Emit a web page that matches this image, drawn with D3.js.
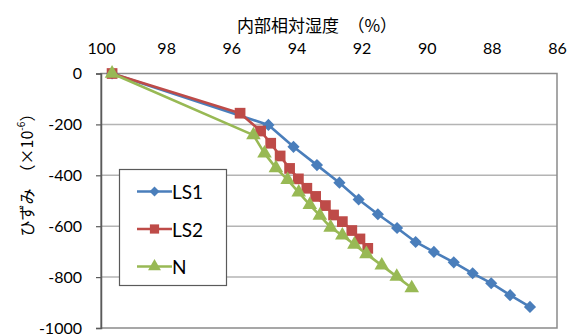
<!DOCTYPE html>
<html>
<head>
<meta charset="utf-8">
<script src="https://cdn.jsdelivr.net/npm/d3@7"></script>
<style>
  html, body { margin: 0; padding: 0; background: #fff; }
  svg text { font-family: Lato, "Noto Sans CJK JP", sans-serif; fill: #000; }
  .jp { font-family: "Noto Sans CJK JP", sans-serif; }
</style>
</head>
<body>
<svg id="chart" width="576" height="336"></svg>
<script>
// Internal relative humidity (%) and strain (×10^-6) for each specimen
const ls1RH = [99.66, 94.86, 94.09, 93.37, 92.68, 92.09, 91.50, 90.91, 90.34, 89.78, 89.17, 88.59, 88.02, 87.44, 86.83];
const ls1Strain = [0, -202, -288, -360, -429, -495, -553, -607, -662, -701, -742, -785, -824, -871, -917];

const ls2RH = [99.66, 95.73, 95.10, 94.79, 94.50, 94.21, 93.94, 93.68, 93.41, 93.11, 92.86, 92.59, 92.30, 92.05, 91.81];
const ls2Strain = [0, -156, -226, -274, -324, -373, -414, -451, -483, -519, -556, -582, -617, -650, -687];

const nRH = [99.66, 95.32, 94.98, 94.63, 94.27, 93.93, 93.59, 93.28, 92.95, 92.59, 92.22, 91.85, 91.38, 90.92, 90.46];
const nStrain = [0, -242, -314, -371, -418, -467, -516, -558, -605, -636, -672, -709, -754, -798, -843];

const seriesNames = ["LS1", "LS2", "N"];
const seriesColors = ["#4a7ebb", "#be4b48", "#98b954"];

const xTicks = [100, 98, 96, 94, 92, 90, 88, 86];
const yTicks = [0, -200, -400, -600, -800, -1000];

const xTitle = "内部相対湿度　（%）";

const series = [
  { name: seriesNames[0], rh: ls1RH, strain: ls1Strain },
  { name: seriesNames[1], rh: ls2RH, strain: ls2Strain },
  { name: seriesNames[2], rh: nRH, strain: nStrain }
];

// Marker shapes: square turned 45°, square, triangle
const diamond = {
  draw(ctx, size) {
    const r = Math.sqrt(size / 2);
    ctx.moveTo(0, -r); ctx.lineTo(r, 0); ctx.lineTo(0, r); ctx.lineTo(-r, 0); ctx.closePath();
  }
};
const seriesSymbols = [diamond, d3.symbolSquare, d3.symbolTriangle];
const markerSize = [74, 115, 92];
const legendMarkerSize = [50, 85, 72];

const svg = d3.select("#chart");
const plot = { left: 101, right: 557, top: 73.5, bottom: 328 };

const x = d3.scaleLinear().domain([100, 86]).range([plot.left, plot.right]);
const y = d3.scaleLinear().domain([0, -1000]).range([plot.top, plot.bottom]);

// horizontal gridlines
svg.append("g")
  .selectAll("line")
  .data(yTicks.slice(1, -1))
  .join("line")
  .attr("x1", plot.left).attr("x2", plot.right)
  .attr("y1", d => y(d)).attr("y2", d => y(d))
  .attr("stroke", "#b4b4b4").attr("stroke-width", 1.5);

// plot frame
svg.append("rect")
  .attr("x", plot.left).attr("y", plot.top)
  .attr("width", plot.right - plot.left).attr("height", plot.bottom - plot.top)
  .attr("fill", "none").attr("stroke", "#8a8a8a").attr("stroke-width", 1.5);

// left axis with outward ticks
const yAxis = svg.append("g")
  .attr("transform", `translate(${plot.left},0)`)
  .call(d3.axisLeft(y).tickValues(yTicks).tickSize(5).tickPadding(14).tickFormat(d3.format("d")));
yAxis.select(".domain").attr("stroke", "#5a5a5a").attr("stroke-width", 1.5);
yAxis.selectAll(".tick line").attr("stroke", "#5a5a5a").attr("stroke-width", 1.2);
yAxis.selectAll(".tick text").attr("font-size", 16).attr("font-family", "Lato, sans-serif").text(d => d === 0 ? "0" : "-" + Math.abs(d));

// top axis (labels only)
const xAxis = svg.append("g")
  .attr("transform", `translate(0,${plot.top})`)
  .call(d3.axisTop(x).tickValues(xTicks).tickSize(0).tickPadding(20).tickFormat(d3.format("d")));
xAxis.select(".domain").remove();
xAxis.selectAll(".tick text").attr("font-size", 16).attr("font-family", "Lato, sans-serif");

// axis titles
svg.append("text")
  .attr("class", "jp")
  .attr("x", 317).attr("y", 24)
  .attr("text-anchor", "middle").attr("dominant-baseline", "central")
  .attr("font-size", 17)
  .text(xTitle);

const yTitle = svg.append("text")
  .attr("class", "jp")
  .attr("transform", "translate(26,171) rotate(-90)")
  .attr("text-anchor", "middle").attr("dominant-baseline", "central")
  .attr("font-size", 16);
yTitle.append("tspan").text("ひずみ　（×10");
yTitle.append("tspan").attr("font-size", 10).attr("dy", -6).text("-6");
yTitle.append("tspan").attr("dy", 6).text("）");

// series lines and markers
const line = d3.line()
  .x(d => x(d[0]))
  .y(d => y(d[1]));

series.forEach((s, i) => {
  const pts = s.rh.map((v, k) => [v, s.strain[k]]);
  const g = svg.append("g");
  g.append("path")
    .datum(pts)
    .attr("d", line)
    .attr("fill", "none")
    .attr("stroke", seriesColors[i])
    .attr("stroke-width", 2.6)
    .attr("stroke-linejoin", "round");
  g.selectAll("path.m")
    .data(pts)
    .join("path")
    .attr("class", "m")
    .attr("transform", d => `translate(${x(d[0])},${y(d[1])})`)
    .attr("d", d3.symbol().type(seriesSymbols[i]).size(markerSize[i]))
    .attr("fill", seriesColors[i]);
});

// legend
const legend = svg.append("g");
legend.append("rect")
  .attr("x", 119.5).attr("y", 169.5).attr("width", 107).attr("height", 116)
  .attr("fill", "#fff").attr("stroke", "#5a5a5a").attr("stroke-width", 1.2);

const legendRows = [191.5, 229, 266.5];
series.forEach((s, i) => {
  const row = legend.append("g").attr("transform", `translate(0,${legendRows[i]})`);
  row.append("line")
    .attr("x1", 137).attr("x2", 172).attr("y1", 0).attr("y2", 0)
    .attr("stroke", seriesColors[i]).attr("stroke-width", 2.6);
  row.append("path")
    .attr("transform", "translate(154.5,0)")
    .attr("d", d3.symbol().type(seriesSymbols[i]).size(legendMarkerSize[i]))
    .attr("fill", seriesColors[i]);
  row.append("text")
    .attr("x", 172).attr("y", 0)
    .attr("dominant-baseline", "central")
    .attr("font-size", 19)
    .attr("font-family", "Lato, sans-serif")
    .text(s.name);
});
</script>
</body>
</html>
